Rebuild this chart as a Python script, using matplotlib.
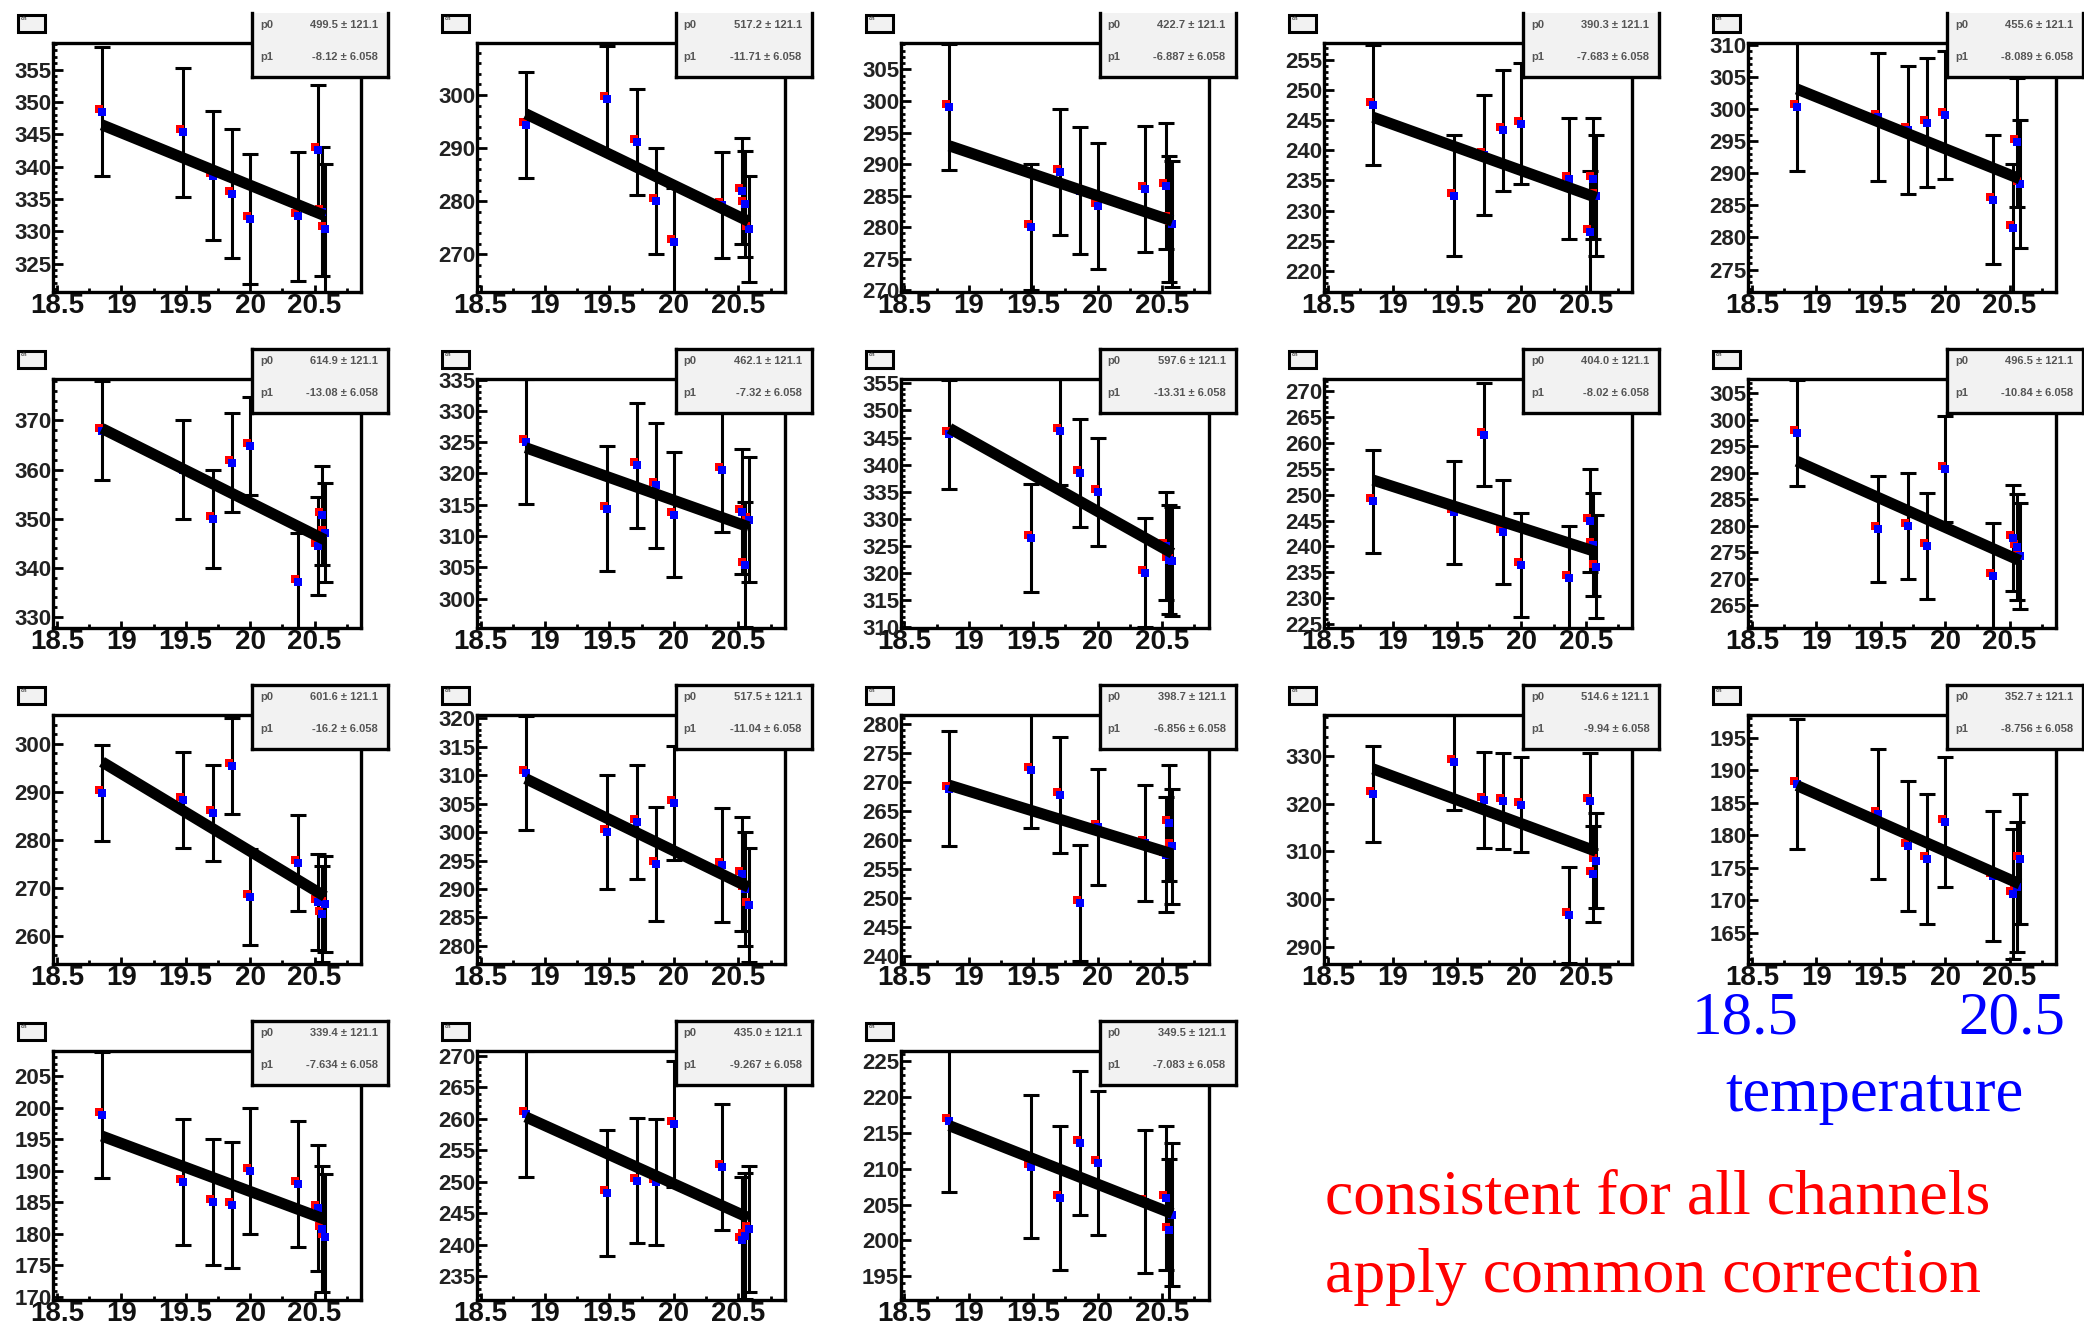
import numpy as np
import matplotlib.pyplot as plt
import matplotlib.transforms as mtransforms
from matplotlib.patches import Rectangle
from matplotlib.lines import Line2D
from matplotlib.ticker import MultipleLocator, AutoMinorLocator, FormatStrFormatter

plt.rcParams['font.family'] = ['Liberation Sans', 'DejaVu Sans']
plt.rcParams['font.weight'] = 'bold'

# temperatures of the runs (same for every channel)
temps = [18.85, 19.48, 19.71, 19.86, 20.0, 20.37, 20.53, 20.555, 20.58]
yerr = 10.0

ch1 = [348.5, 345.3, 338.6, 335.8, 331.9, 332.3, 342.6, 333.0, 330.4]
ch2 = [294.3, 299.2, 291.1, 280.0, 272.4, 279.3, 281.9, 279.5, 274.7]
ch3 = [299.0, 280.0, 288.7, 285.8, 283.4, 286.0, 286.5, 281.3, 280.5]
ch4 = [247.5, 232.5, 239.2, 243.3, 244.4, 235.3, 226.5, 235.3, 232.5]
ch5 = [300.4, 298.8, 296.7, 297.9, 299.1, 285.9, 281.4, 294.8, 288.3]
ch6 = [367.9, 360.0, 350.0, 361.4, 364.8, 337.2, 344.5, 350.7, 347.2]
ch7 = [325.1, 314.4, 321.3, 318.1, 313.4, 320.6, 313.9, 305.4, 312.6]
ch8 = [345.6, 326.5, 346.2, 338.5, 335.0, 320.1, 325.0, 322.5, 322.2]
ch9 = [248.7, 246.6, 261.6, 242.8, 236.4, 233.9, 245.0, 240.3, 236.1]
ch10 = [297.5, 279.4, 280.0, 276.1, 290.8, 270.5, 277.6, 276.0, 274.3]
ch11 = [289.7, 288.3, 285.6, 295.4, 268.0, 275.1, 267.1, 264.5, 266.6]
ch12 = [310.4, 300.0, 301.8, 294.4, 305.1, 294.2, 292.6, 290.0, 287.2]
ch13 = [268.9, 272.1, 267.8, 249.2, 262.2, 259.5, 257.5, 263.0, 258.9]
ch14 = [322.0, 328.6, 320.7, 320.5, 319.8, 296.8, 320.5, 305.3, 308.1]
ch15 = [187.9, 183.2, 178.4, 176.3, 182.0, 173.7, 170.9, 172.0, 176.3]
ch16 = [198.9, 188.2, 185.0, 184.5, 190.0, 187.9, 184.1, 180.8, 179.5]
ch17 = [260.8, 248.2, 250.2, 250.0, 259.2, 252.3, 240.8, 241.4, 242.5]
ch18 = [216.7, 210.3, 205.9, 213.6, 210.8, 205.4, 205.9, 201.4, 203.6]
channels = [ch1, ch2, ch3, ch4, ch5, ch6, ch7, ch8, ch9, ch10,
            ch11, ch12, ch13, ch14, ch15, ch16, ch17, ch18]

# linear fit parameters p0 + p1*T
p0 = [499.5, 517.2, 422.7, 390.3, 455.6, 614.9, 462.1, 597.6, 404.0,
      496.5, 601.6, 517.5, 398.7, 514.6, 352.7, 339.4, 435.0, 349.5]
p1 = [-8.12, -11.71, -6.887, -7.683, -8.089, -13.08, -7.32, -13.31, -8.02,
      -10.84, -16.2, -11.04, -6.856, -9.94, -8.756, -7.634, -9.267, -7.083]
p0_err = 121.1
p1_err = 6.058

y_ranges = [(320.6, 359.1), (262.9, 309.8), (269.7, 309.2), (216.5, 257.8),
            (271.5, 310.3), (327.8, 378.4), (295.3, 335.1), (309.9, 355.8),
            (224.2, 272.4), (260.7, 307.7), (254.1, 306.0), (276.8, 320.6),
            (238.6, 281.6), (286.5, 338.5), (160.2, 198.5), (169.5, 209.0),
            (231.2, 270.8), (191.7, 226.4)]
y_steps = [5, 10, 5, 5, 5, 10, 5, 5, 5, 5, 10, 5, 5, 10, 5, 5, 5, 5]
x_range = (18.47, 20.86)

W, H = 2084, 1326
fig = plt.figure(figsize=(W / 100, H / 100), dpi=100)


def fx(px):
    return px / W


def fy(py):
    return 1 - py / H


fw, fh = 308, 249
for i, vals in enumerate(channels):
    r, c = divmod(i, 5)
    left = 53 + c * 423.75
    top = 43 + r * 336
    ax = fig.add_axes([fx(left), fy(top + fh), fw / W, fh / H])

    ax.errorbar(temps, vals, yerr=yerr, fmt='none', ecolor='black',
                elinewidth=2.2, capsize=5.5, capthick=2.2, zorder=2)
    shift = ax.transData + mtransforms.ScaledTranslation(-0.03, 0.03, fig.dpi_scale_trans)
    ax.plot(temps, vals, 's', color='red', ms=6, mew=0, transform=shift, zorder=3)
    ax.plot(temps, vals, 's', color='blue', ms=6, mew=0, zorder=4)
    xs = np.array([temps[0], temps[-1]])
    ax.plot(xs, p0[i] + p1[i] * xs, color='black', lw=8, solid_capstyle='butt', zorder=5)

    ax.set_xlim(*x_range)
    ax.set_ylim(*y_ranges[i])
    ax.xaxis.set_major_locator(MultipleLocator(0.5))
    ax.xaxis.set_minor_locator(MultipleLocator(0.25))
    ax.xaxis.set_major_formatter(FormatStrFormatter('%g'))
    ax.yaxis.set_major_locator(MultipleLocator(y_steps[i]))
    ax.yaxis.set_minor_locator(AutoMinorLocator(5))
    ax.yaxis.set_major_formatter(FormatStrFormatter('%d'))
    ax.tick_params(which='both', direction='in', top=False, right=False, width=2)
    ax.tick_params(axis='y', which='major', length=7, pad=1, labelsize=16, labelcolor='#222')
    ax.tick_params(axis='y', which='minor', length=3)
    ax.tick_params(axis='x', which='major', length=5, pad=1, labelsize=20, labelcolor='#111')
    ax.tick_params(axis='x', which='minor', length=3)
    for sp in ax.spines.values():
        sp.set_linewidth(2.4)

    # fit statistics box
    bx0, bx1 = left + 199, left + 335
    by0, by1 = top - 30, top + 34
    fig.add_artist(Rectangle((fx(bx0), fy(by1)), (bx1 - bx0) / W, (by1 - by0) / H,
                             transform=fig.transFigure, facecolor='#f2f2f2',
                             edgecolor='none', zorder=6))
    edges = [((bx0, by0), (bx0, by1)), ((bx1, by0), (bx1, by1)), ((bx0, by1), (bx1, by1))]
    if r > 0:
        edges.append(((bx0, by0), (bx1, by0)))
    for (xa, ya), (xb, yb) in edges:
        fig.add_artist(Line2D([fx(xa), fx(xb)], [fy(ya), fy(yb)], transform=fig.transFigure,
                              color='black', lw=2.4, zorder=7))
    fig.text(fx(bx0 + 8), fy(by0 + 12), 'p0', fontsize=8, color='#555', va='center', zorder=8)
    fig.text(fx(bx1 - 10), fy(by0 + 12), f'{p0[i]:.1f} \u00b1 {p0_err}', fontsize=8,
             color='#555', va='center', ha='right', zorder=8)
    fig.text(fx(bx0 + 8), fy(by0 + 44), 'p1', fontsize=8, color='#555', va='center', zorder=8)
    fig.text(fx(bx1 - 10), fy(by0 + 44), f'{p1[i]:.4g} \u00b1 {p1_err}', fontsize=8,
             color='#555', va='center', ha='right', zorder=8)

    # small title box
    fig.add_artist(Rectangle((fx(left - 35), fy(top - 11)), 27 / W, 17 / H,
                             transform=fig.transFigure, facecolor='#f2f2f2',
                             edgecolor='black', lw=2.2, zorder=6))
    fig.text(fx(left - 32), fy(top - 24), 'ch', fontsize=4, color='#444', va='center', zorder=8)

serif = ['Liberation Serif', 'DejaVu Serif']
fig.text(fx(1692), fy(1033), '18.5', fontsize=44, color='blue', family=serif,
         weight='normal', va='baseline')
fig.text(fx(2065), fy(1033), '20.5', fontsize=44, color='blue', family=serif,
         weight='normal', va='baseline', ha='right')
fig.text(fx(1725), fy(1111), 'temperature', fontsize=45, color='blue', family=serif,
         weight='normal', va='baseline')
fig.text(fx(1325), fy(1213), 'consistent for all channels', fontsize=46, color='red',
         family=serif, weight='normal', va='baseline')
fig.text(fx(1325), fy(1292), 'apply common correction', fontsize=46, color='red',
         family=serif, weight='normal', va='baseline')

fig.savefig('out.png', dpi=100)
